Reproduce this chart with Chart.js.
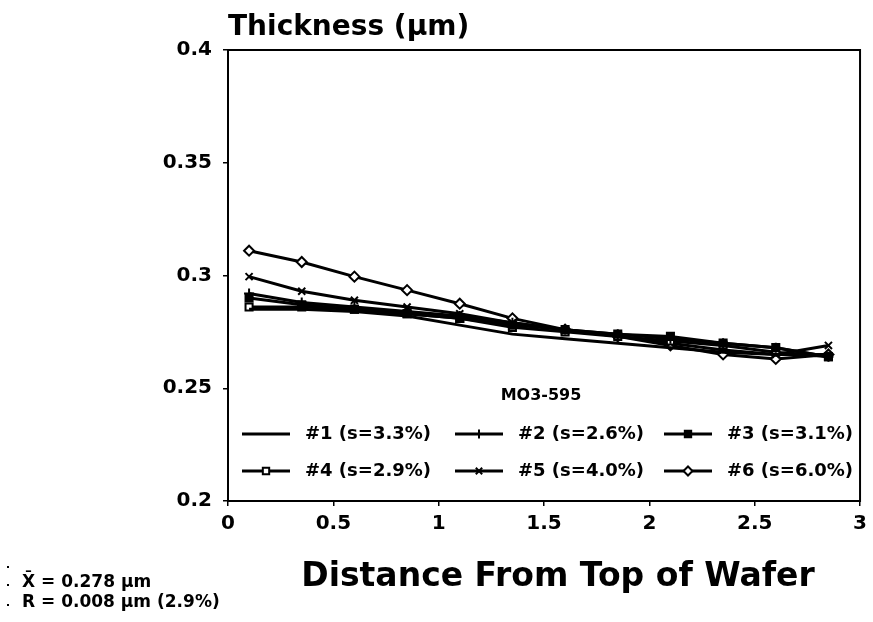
<!DOCTYPE html>
<html>
<head>
<meta charset="utf-8">
<script src="https://cdn.jsdelivr.net/npm/chart.js@4"></script>
<style>
  html, body { margin: 0; padding: 0; background: #fff; }
  #wrap { width: 873px; height: 622px; position: relative; }
</style>
</head>
<body>
<div id="wrap"><canvas id="chart" width="873" height="622"></canvas></div>
<script>
const distances = [0.1, 0.35, 0.6, 0.85, 1.1, 1.35, 1.6, 1.85, 2.1, 2.35, 2.6, 2.85];
const wafer1 = [0.285, 0.285, 0.284, 0.282, 0.278, 0.274, 0.272, 0.270, 0.268, 0.266, 0.265, 0.265];
const wafer2 = [0.292, 0.288, 0.286, 0.284, 0.282, 0.279, 0.276, 0.274, 0.272, 0.270, 0.268, 0.264];
const wafer3 = [0.290, 0.287, 0.285, 0.283, 0.281, 0.278, 0.276, 0.274, 0.273, 0.270, 0.268, 0.264];
const wafer4 = [0.286, 0.286, 0.285, 0.283, 0.281, 0.277, 0.275, 0.273, 0.271, 0.269, 0.266, 0.264];
const wafer5 = [0.2995, 0.293, 0.289, 0.286, 0.283, 0.279, 0.276, 0.273, 0.270, 0.267, 0.265, 0.269];
const wafer6 = [0.311, 0.306, 0.2995, 0.2935, 0.2875, 0.281, 0.276, 0.273, 0.269, 0.265, 0.263, 0.265];
const seriesLabels = ['#1 (s=3.3%)', '#2 (s=2.6%)', '#3 (s=3.1%)', '#4 (s=2.9%)', '#5 (s=4.0%)', '#6 (s=6.0%)'];
const yTicks = [0.2, 0.25, 0.3, 0.35, 0.4];
const xTicks = [0, 0.5, 1, 1.5, 2, 2.5, 3];

const FONT = '"DejaVu Sans", sans-serif';
const marks = [
  { style: false, fill: '#000' },
  { style: 'cross', fill: '#000' },
  { style: 'rect', fill: '#000' },
  { style: 'rect', fill: '#fff' },
  { style: 'crossRot', fill: '#000' },
  { style: 'rectRot', fill: '#fff' }
];

function makeSet(values, i) {
  return {
    label: seriesLabels[i],
    data: distances.map((x, k) => ({ x: x, y: values[k] })),
    borderColor: '#000',
    borderWidth: 3,
    backgroundColor: marks[i].fill,
    pointStyle: marks[i].style,
    pointRadius: marks[i].style ? 5 : 0,
    pointBorderWidth: 2,
    pointBorderColor: '#000',
    tension: 0
  };
}

// box, titles, legend and notes
const decorations = {
  id: 'decorations',
  afterDraw(chart) {
    const ctx = chart.ctx;
    const a = chart.chartArea;
    ctx.save();
    ctx.strokeStyle = '#000';
    ctx.lineWidth = 2;
    ctx.strokeRect(a.left, a.top, a.right - a.left, a.bottom - a.top);

    ctx.fillStyle = '#000';
    ctx.textBaseline = 'middle';
    ctx.textAlign = 'left';
    ctx.font = 'bold 28px ' + FONT;
    ctx.fillText('Thickness (\u03BCm)', 228, 28);

    ctx.textAlign = 'center';
    ctx.font = 'bold 33px ' + FONT;
    ctx.fillText('Distance From Top of Wafer', 558, 577);

    ctx.textAlign = 'left';
    ctx.font = 'bold 17px ' + FONT;
    ctx.fillText('X\u0304 = 0.278 \u03BCm', 22, 583);
    ctx.fillText('R = 0.008 \u03BCm (2.9%)', 22, 603);
    ctx.fillRect(7, 566, 2, 2);
    ctx.fillRect(7, 584, 2, 2);
    ctx.fillRect(7, 604, 2, 2);

    ctx.textAlign = 'center';
    ctx.font = 'bold 16px ' + FONT;
    ctx.fillText('MO3-595', 541, 396);

    const cols = [242, 455, 664];
    const rows = [434, 471];
    ctx.textAlign = 'left';
    chart.data.datasets.forEach((ds, i) => {
      const x = cols[i % 3];
      const y = rows[Math.floor(i / 3)];
      ctx.strokeStyle = '#000';
      ctx.lineWidth = 3;
      ctx.beginPath();
      ctx.moveTo(x, y);
      ctx.lineTo(x + 48, y);
      ctx.stroke();
      if (marks[i].style) {
        ctx.fillStyle = marks[i].fill;
        ctx.lineWidth = 2;
        Chart.helpers.drawPoint(ctx, { pointStyle: marks[i].style, radius: 4.5, borderWidth: 2 }, x + 24, y);
      }
      ctx.fillStyle = '#000';
      ctx.font = 'bold 18px ' + FONT;
      ctx.fillText(ds.label, x + 63, y);
    });
    ctx.restore();
  }
};

const tickFont = { family: FONT, size: 20, weight: 'bold' };

new Chart(document.getElementById('chart'), {
  type: 'line',
  data: {
    datasets: [wafer1, wafer2, wafer3, wafer4, wafer5, wafer6].map(makeSet)
  },
  options: {
    responsive: false,
    animation: false,
    layout: { padding: { top: 50, right: 1, left: 0, bottom: 0 } },
    plugins: { legend: { display: false }, tooltip: { enabled: false } },
    scales: {
      x: {
        type: 'linear',
        min: 0,
        max: 3,
        afterBuildTicks: s => { s.ticks = xTicks.map(v => ({ value: v })); },
        afterFit: s => { s.height = 121; },
        border: { display: false },
        grid: { drawOnChartArea: false, tickLength: 5, color: '#000', lineWidth: 1.5 },
        ticks: { color: '#000', font: tickFont, padding: 6, maxRotation: 0, callback: v => String(v) }
      },
      y: {
        min: 0.2,
        max: 0.4,
        afterBuildTicks: s => { s.ticks = yTicks.map(v => ({ value: v })); },
        afterFit: s => { s.width = 228; },
        border: { display: false },
        grid: { drawOnChartArea: false, tickLength: 5, color: '#000', lineWidth: 1.5 },
        ticks: { color: '#000', font: tickFont, padding: 11, callback: v => String(v) }
      }
    }
  },
  plugins: [decorations]
});
</script>
</body>
</html>
